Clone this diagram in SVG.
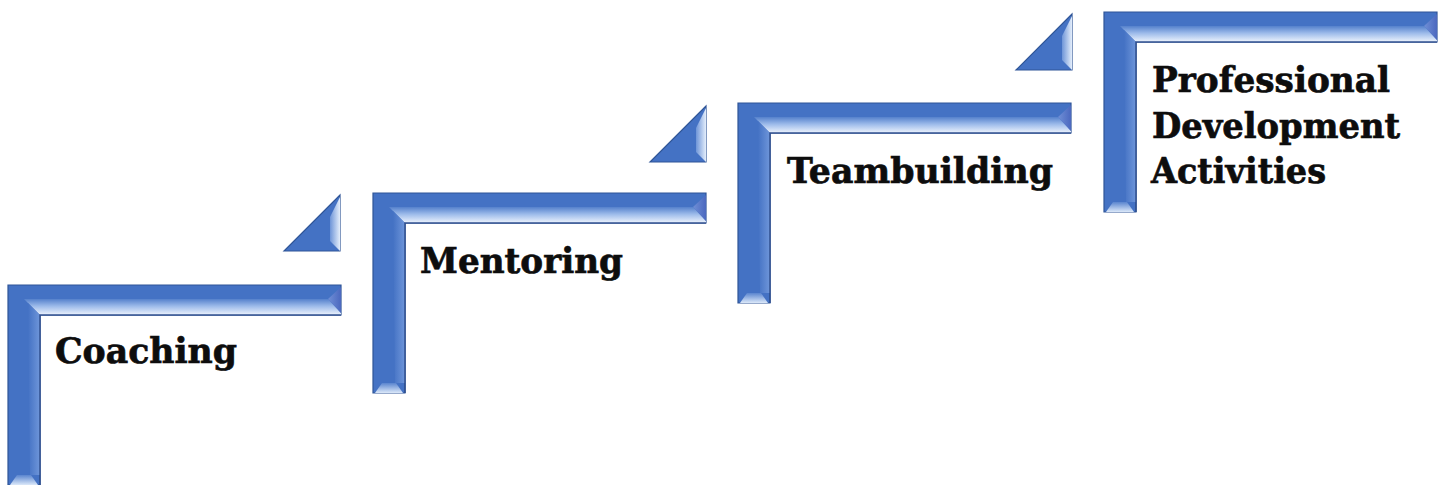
<svg xmlns="http://www.w3.org/2000/svg" xmlns:xlink="http://www.w3.org/1999/xlink" width="1443" height="485" viewBox="0 0 1443 485">
<style>
  .lbl { font-family: "DejaVu Serif", "Liberation Serif", serif; font-weight: bold; font-size: 36px; fill: #0d0d0d; stroke: #0d0d0d; stroke-width: 0.7; }
  .base { fill: #4472c4; stroke: #2f5597; stroke-width: 1.2; }
  .edge { stroke: #2f4f8f; stroke-width: 1.5; fill: none; }
</style>
<defs>
  <linearGradient id="gBand" x1="0" y1="0" x2="0" y2="1">
    <stop offset="0" stop-color="#5581cc"/>
    <stop offset="0.45" stop-color="#9dbbea"/>
    <stop offset="1" stop-color="#eef4fd"/>
  </linearGradient>
  <linearGradient id="gVert" x1="0" y1="0" x2="1" y2="0">
    <stop offset="0" stop-color="#4472c4"/>
    <stop offset="1" stop-color="#6f96da"/>
  </linearGradient>
  <linearGradient id="gFoot" x1="0" y1="0" x2="0" y2="1">
    <stop offset="0" stop-color="#5a85cf"/>
    <stop offset="1" stop-color="#dbe8f9"/>
  </linearGradient>
  <linearGradient id="gEnd" x1="0" y1="0" x2="1" y2="0">
    <stop offset="0" stop-color="#6f8fd6"/>
    <stop offset="1" stop-color="#4b68bf"/>
  </linearGradient>
  <linearGradient id="gFacet" x1="0" y1="0" x2="1" y2="0">
    <stop offset="0" stop-color="#6e95d8"/>
    <stop offset="1" stop-color="#e4eefb"/>
  </linearGradient>
  <g id="stepShape">
    <path class="base" d="M0,0 H333 V30 H32 V200 H0 Z"/>
    <polygon points="16,14 320,14 333,28 333,30 32,30" fill="url(#gBand)"/>
    <polygon points="320,14 333,2 333,28" fill="url(#gEnd)"/>
    <polygon points="20,18 32,30 32,190 22,190" fill="url(#gVert)"/>
    <polygon points="2,200 30,200 23,190 9,190" fill="url(#gFoot)"/>
    <path class="edge" d="M32,200 V30 H333"/>
  </g>
  <g id="triShape">
    <path class="base" d="M0,56 L56,0 L56,56 Z"/>
    <polygon points="56,2 56,56 46,46 46,22" fill="url(#gFacet)"/>
  </g>
</defs>

<g id="connectors">
  <use id="tri1" xlink:href="#triShape" transform="translate(284,195)"/>
  <use id="tri2" xlink:href="#triShape" transform="translate(650,106)"/>
  <use id="tri3" xlink:href="#triShape" transform="translate(1016,14)"/>
</g>

<g id="step-coaching">
  <use xlink:href="#stepShape" transform="translate(8,285)"/>
  <text class="lbl" x="55" y="363" textLength="182" lengthAdjust="spacingAndGlyphs">Coaching</text>
</g>

<g id="step-mentoring">
  <use xlink:href="#stepShape" transform="translate(373,193)"/>
  <text class="lbl" x="420" y="273" textLength="203" lengthAdjust="spacingAndGlyphs">Mentoring</text>
</g>

<g id="step-teambuilding">
  <use xlink:href="#stepShape" transform="translate(738,103)"/>
  <text class="lbl" x="787" y="183" textLength="266" lengthAdjust="spacingAndGlyphs">Teambuilding</text>
</g>

<g id="step-professional">
  <use xlink:href="#stepShape" transform="translate(1104,12)"/>
  <text class="lbl" x="1152" y="92" textLength="238" lengthAdjust="spacingAndGlyphs">Professional</text>
  <text class="lbl" x="1152" y="138" textLength="248" lengthAdjust="spacingAndGlyphs">Development</text>
  <text class="lbl" x="1151" y="183" textLength="175" lengthAdjust="spacingAndGlyphs">Activities</text>
</g>
</svg>
